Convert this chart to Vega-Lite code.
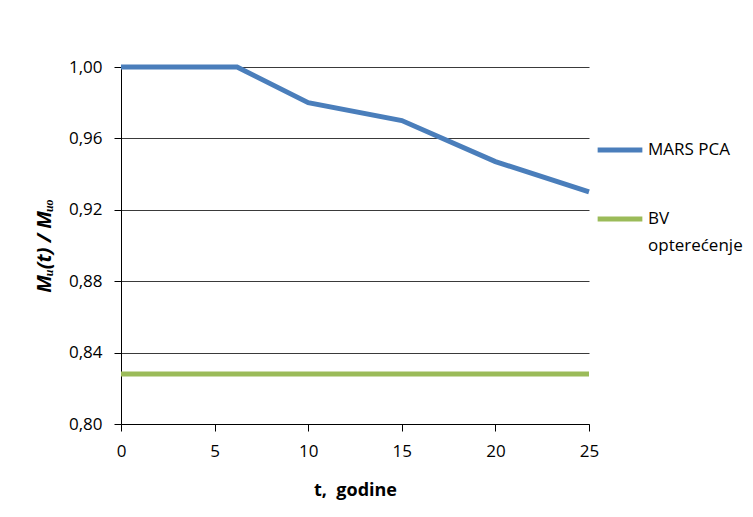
{
  "$schema": "https://vega.github.io/schema/vega-lite/v6.json",
  "width": 468,
  "height": 357,
  "autosize": {"type": "none"},
  "padding": {"left": 121, "top": 67, "right": 164, "bottom": 93},
  "background": "white",
  "config": {
    "font": "Open Sans",
    "view": {"stroke": null},
    "axis": {"labelFont": "Open Sans", "titleFont": "Open Sans", "labelColor": "#000000", "titleColor": "#000000"}
  },
  "data": {
    "values": [
      {"t": 0, "v": 1.0, "s": "MARS PCA"},
      {"t": 6.2, "v": 1.0, "s": "MARS PCA"},
      {"t": 10, "v": 0.98, "s": "MARS PCA"},
      {"t": 15, "v": 0.97, "s": "MARS PCA"},
      {"t": 20, "v": 0.947, "s": "MARS PCA"},
      {"t": 25, "v": 0.93, "s": "MARS PCA"},
      {"t": 0, "v": 0.828, "s": "BV opterećenje"},
      {"t": 25, "v": 0.828, "s": "BV opterećenje"}
    ]
  },
  "mark": {"type": "line", "strokeWidth": 5, "strokeCap": "butt", "strokeJoin": "miter"},
  "encoding": {
    "x": {
      "field": "t", "type": "quantitative",
      "scale": {"domain": [0, 25], "nice": false},
      "axis": {
        "values": [0, 5, 10, 15, 20, 25],
        "title": "t,\u00a0\u00a0godine",
        "titleFontSize": 18, "titleFontWeight": "bold", "titlePadding": 22,
        "labelFontSize": 17, "labelPadding": 12,
        "grid": false, "domainColor": "#000000", "tickColor": "#000000", "tickSize": 7,
        "labelFlush": false
      }
    },
    "y": {
      "field": "v", "type": "quantitative",
      "scale": {"domain": [0.8, 1.0], "nice": false, "zero": false},
      "axis": {
        "values": [0.8, 0.84, 0.88, 0.92, 0.96, 1.0],
        "labelExpr": "replace(format(datum.value, '.2f'), '.', ',')",
        "title": "Mᵤ(t) / Mᵤₒ",
        "titleFontSize": 20, "titleFontWeight": "bold", "titleFontStyle": "italic", "titlePadding": 14,
        "labelFontSize": 17, "labelPadding": 12,
        "grid": true, "gridColor": "#3a3a3a", "gridOpacity": 1, "gridWidth": 1,
        "domainColor": "#000000", "tickColor": "#000000", "tickSize": 7,
        "labelFlush": false
      }
    },
    "color": {
      "field": "s", "type": "nominal",
      "scale": {"domain": ["MARS PCA", "BV opterećenje"], "range": ["#4a7ebb", "#9bbb59"]},
      "legend": {
        "title": null,
        "orient": "none",
        "legendX": 474,
        "legendY": 58,
        "symbolType": "stroke",
        "symbolStrokeWidth": 5,
        "symbolSize": 2000,
        "labelFontSize": 17,
        "labelFont": "Open Sans",
        "labelColor": "#000000",
        "labelOffset": 3,
        "rowPadding": 34,
        "labelLimit": 200,
        "labelExpr": "datum.label == 'BV opterećenje' ? ['BV', 'opterećenje'] : datum.label",
        "encode": {"labels": {"update": {"lineHeight": {"value": 27}}}}
      }
    }
  }
}
